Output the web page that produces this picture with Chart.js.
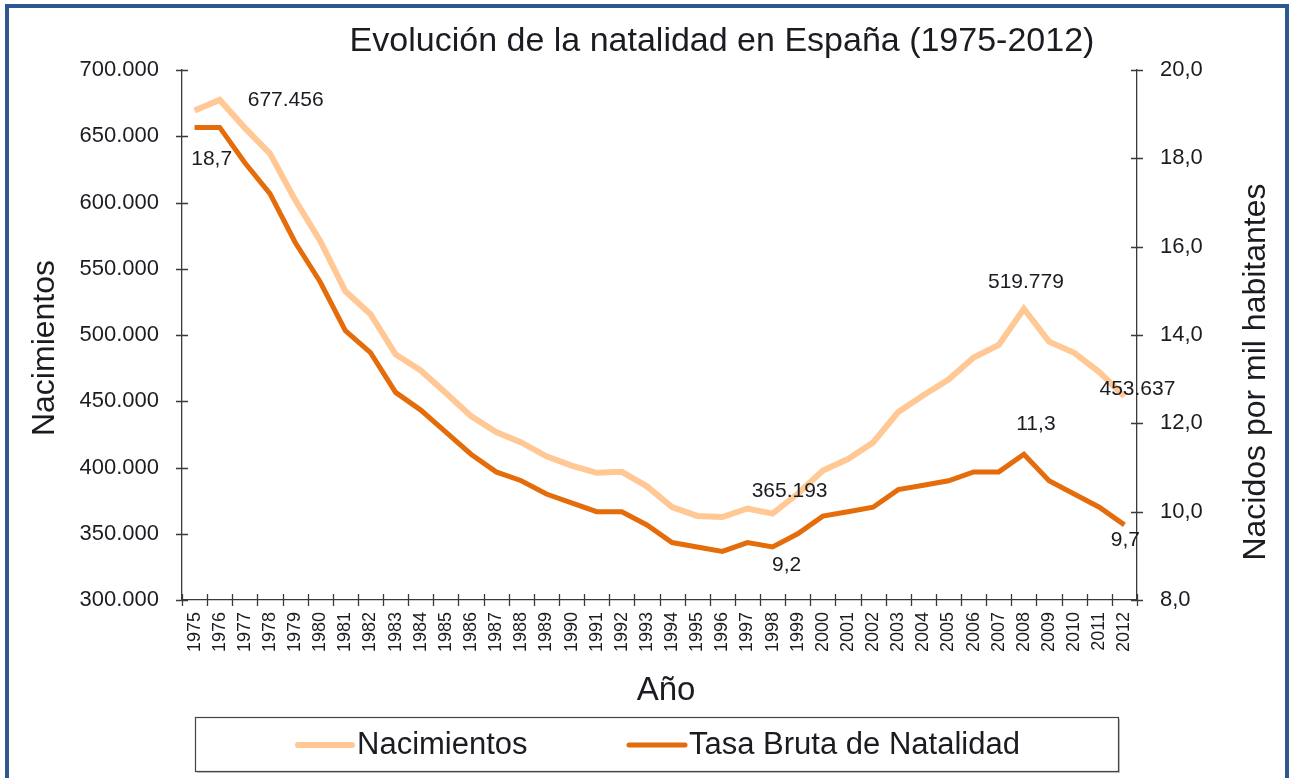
<!DOCTYPE html>
<html>
<head>
<meta charset="utf-8">
<script src="https://cdn.jsdelivr.net/npm/chart.js@4/dist/chart.umd.min.js"></script>
<style>
html,body{margin:0;padding:0;background:#fff;}
canvas{display:block;}
</style>
</head>
<body>
<canvas id="c" width="1292" height="778"></canvas>
<script>
const years = ['1975','1976','1977','1978','1979','1980','1981','1982','1983','1984','1985','1986','1987','1988','1989','1990','1991','1992','1993','1994','1995','1996','1997','1998','1999','2000','2001','2002','2003','2004','2005','2006','2007','2008','2009','2010','2011','2012'];
const nacimientos = [669378,677456,656357,636892,601992,571018,533008,515706,485352,473281,456298,438750,426782,418919,408434,401425,395989,396747,385786,370148,363469,362626,369035,365193,380130,397632,406380,418846,441881,454591,466371,482957,492527,519779,494997,486575,471999,453637];
const tasaBruta = [18.7,18.7,17.9,17.2,16.1,15.2,14.1,13.6,12.7,12.3,11.8,11.3,10.9,10.7,10.4,10.2,10.0,10.0,9.7,9.3,9.2,9.1,9.3,9.2,9.5,9.9,10.0,10.1,10.5,10.6,10.7,10.9,10.9,11.3,10.7,10.4,10.1,9.7];
const leftTicks = [300000,350000,400000,450000,500000,550000,600000,650000,700000];
const rightTicks = [8,10,12,14,16,18,20];
const birthLabelIdx = [1,23,33,37];
const rateLabelIdx = [1,23,33,37];
const seriesNames = ['Nacimientos','Tasa Bruta de Natalidad'];
const titleText = 'Evolución de la natalidad en España (1975-2012)';
const xTitle = 'Año';
const yLeftTitle = 'Nacimientos';
const yRightTitle = 'Nacidos por mil habitantes';

const LIGHT = '#FFC894';
const DARK = '#E46C0A';
const TXT = '#1b1b22';
const FONT = '"Liberation Sans", Arial, sans-serif';

const fmtThousands = v => String(Math.round(v)).replace(/\B(?=(\d{3})+(?!\d))/g,'.');
const fmtRate = v => v.toFixed(1).replace('.',',');

const deco = {
  id:'deco',
  beforeDraw(chart){
    const ctx = chart.ctx;
    ctx.save();
    ctx.fillStyle = '#fff';
    ctx.fillRect(0,0,chart.width,chart.height);
    ctx.restore();
  },
  afterDraw(chart){
    const ctx = chart.ctx;
    const xs = chart.scales.x, yl = chart.scales.y, yr = chart.scales.y1;
    ctx.save();
    // axis cross ticks
    ctx.strokeStyle = '#3a3a3a';
    ctx.lineWidth = 1.3;
    const n = years.length;
    const step = (xs.right - xs.left)/n;
    ctx.beginPath();
    for(let i=0;i<=n;i++){
      const x = Math.round(xs.left + i*step)+0.5;
      ctx.moveTo(x, xs.top-6); ctx.lineTo(x, xs.top+6);
    }
    leftTicks.forEach(v=>{const y=Math.round(yl.getPixelForValue(v))+0.5; ctx.moveTo(yl.right-6,y); ctx.lineTo(yl.right+6,y);});
    rightTicks.forEach(v=>{const y=Math.round(yr.getPixelForValue(v))+0.5; ctx.moveTo(yr.left-6,y); ctx.lineTo(yr.left+6,y);});
    ctx.stroke();

    // data labels
    ctx.fillStyle = TXT;
    ctx.font = '21px ' + FONT;
    ctx.textBaseline = 'middle';
    ctx.textAlign = 'center';
    const bOff = {1:[66,0],23:[17,-22],33:[2,-27],37:[13,-7]};
    birthLabelIdx.forEach(i=>{
      const x = xs.getPixelForValue(i), y = yl.getPixelForValue(nacimientos[i]);
      const o = bOff[i] || [0,-18];
      ctx.fillText(fmtThousands(nacimientos[i]), x+o[0], y+o[1]);
    });
    const rOff = {1:[-8,32],23:[14,18],33:[12,-30],37:[1,15]};
    rateLabelIdx.forEach(i=>{
      const x = xs.getPixelForValue(i), y = yr.getPixelForValue(tasaBruta[i]);
      const o = rOff[i] || [0,18];
      ctx.fillText(fmtRate(tasaBruta[i]), x+o[0], y+o[1]);
    });

    // title
    ctx.font = '34px ' + FONT;
    ctx.fillText(titleText, 722, 42);
    // x title
    ctx.font = '33px ' + FONT;
    ctx.fillText(xTitle, 666, 691);
    // left title
    ctx.save();
    ctx.translate(45, 348); ctx.rotate(-Math.PI/2);
    ctx.font = '32px ' + FONT;
    ctx.fillText(yLeftTitle, 0, 0);
    ctx.restore();
    ctx.save();
    ctx.translate(1256, 372); ctx.rotate(-Math.PI/2);
    ctx.font = '32px ' + FONT;
    ctx.fillText(yRightTitle, 0, 0);
    ctx.restore();

    // legend
    ctx.fillStyle = 'rgba(0,0,0,0.22)';
    ctx.fillRect(197,719,923,54);
    ctx.fillStyle = '#fff';
    ctx.fillRect(195,717,923,54);
    ctx.strokeStyle = '#444'; ctx.lineWidth = 1.2;
    ctx.strokeRect(195.5,717.5,923,54);
    ctx.lineWidth = 6; ctx.strokeStyle = LIGHT; ctx.lineCap='round';
    ctx.beginPath(); ctx.moveTo(298,745); ctx.lineTo(352,745); ctx.stroke();
    ctx.lineWidth = 5; ctx.strokeStyle = DARK;
    ctx.beginPath(); ctx.moveTo(629,745); ctx.lineTo(685,745); ctx.stroke();
    ctx.fillStyle = TXT; ctx.font = '31px ' + FONT; ctx.textAlign='left';
    ctx.fillText(seriesNames[0], 357, 745);
    ctx.fillText(seriesNames[1], 689, 745);

    // outer border
    ctx.strokeStyle = '#2C5790'; ctx.lineWidth = 4;
    ctx.strokeRect(7,6,1280,800);
    ctx.restore();
  }
};

new Chart(document.getElementById('c'), {
  type:'line',
  data:{
    labels: years,
    datasets:[
      {label:seriesNames[0], data:nacimientos, yAxisID:'y', borderColor:LIGHT, backgroundColor:LIGHT, borderWidth:6, pointRadius:0, tension:0, borderJoinStyle:'miter'},
      {label:seriesNames[1], data:tasaBruta, yAxisID:'y1', borderColor:DARK, backgroundColor:DARK, borderWidth:5, pointRadius:0, tension:0, borderJoinStyle:'miter'}
    ]
  },
  options:{
    responsive:false,
    animation:false,
    devicePixelRatio:1,
    layout:{padding:{top:70,left:0,right:0,bottom:0}},
    plugins:{legend:{display:false}, title:{display:false}, tooltip:{enabled:false}},
    scales:{
      x:{
        offset:true,
        grid:{display:false, drawTicks:false},
        border:{display:true, color:'#3a3a3a', width:1.3},
        ticks:{autoSkip:false, maxRotation:90, minRotation:90, padding:12, color:TXT, font:{family:FONT, size:18}},
        afterFit(s){ s.height = 178; }
      },
      y:{
        position:'left', min:300000, max:700000,
        grid:{display:false, drawTicks:false},
        border:{display:true, color:'#3a3a3a', width:1.3},
        afterBuildTicks(s){ s.ticks = leftTicks.map(v=>({value:v})); },
        ticks:{padding:23, color:TXT, font:{family:FONT, size:22}, callback:v=>fmtThousands(v)},
        afterFit(s){ s.width = 182; }
      },
      y1:{
        position:'right', min:8, max:20,
        grid:{display:false, drawTicks:false},
        border:{display:true, color:'#3a3a3a', width:1.3},
        afterBuildTicks(s){ s.ticks = rightTicks.map(v=>({value:v})); },
        ticks:{padding:23, color:TXT, font:{family:FONT, size:22}, callback:v=>fmtRate(v)},
        afterFit(s){ s.width = 155; }
      }
    }
  },
  plugins:[deco]
});
</script>
</body>
</html>
